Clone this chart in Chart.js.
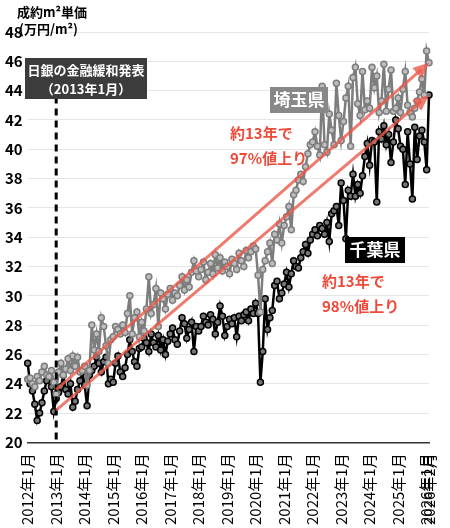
<!DOCTYPE html>
<html><head><meta charset="utf-8">
<script src="https://cdn.jsdelivr.net/npm/chart.js@4"></script>
<style>html,body{margin:0;padding:0;background:#fff}#w{width:450px;height:528px}</style>
</head><body><div id="w"><canvas id="c"></canvas></div>
<script>
const years = [2012,2013,2014,2015,2016,2017,2018,2019,2020,2021,2022,2023,2024,2025,2026];
const lastMonth = 2;
const chiba = [
25.4,24.0,23.5,22.6,21.5,22.0,22.7,23.5,24.2,24.5,23.8,22.1,
23.0,23.4,23.8,24.6,23.6,23.3,24.0,22.4,22.8,23.6,24.2,24.8,
23.9,22.5,24.6,24.9,25.2,25.8,25.4,24.8,25.5,25.8,24.0,24.3,
24.1,25.4,25.9,24.8,24.5,25.1,26.0,27.0,26.2,25.5,25.2,26.4,
26.5,27.1,26.8,26.2,27.4,26.8,26.5,27.3,26.3,27.0,26.0,26.9,
27.4,27.8,27.0,26.7,27.6,28.5,28.1,27.1,27.7,28.2,26.2,27.9,
27.6,27.9,28.6,28.2,28.0,28.7,28.4,27.4,28.2,29.3,28.6,27.3,
27.9,28.4,28.1,28.5,27.2,28.6,28.3,28.7,28.9,28.3,29.1,28.8,
29.5,28.8,24.1,26.2,29.8,27.7,28.5,29.0,30.7,31.0,29.8,30.2,
30.8,31.6,30.6,31.5,32.4,32.0,31.9,32.6,33.0,33.5,32.9,33.8,
34.2,34.5,34.1,34.8,34.6,34.2,35.0,33.7,35.6,35.8,36.1,34.8,
37.7,36.5,33.9,37.2,36.8,38.3,36.8,37.6,37.0,38.2,39.5,40.4,
38.9,40.6,40.5,36.4,41.2,40.7,41.6,40.3,41.0,39.1,40.5,42.0,
41.4,40.2,40.0,37.6,41.2,39.0,36.6,41.5,39.3,40.9,41.3,40.5,
38.6,43.7];
const saitama = [
24.3,24.4,24.0,23.8,24.5,24.2,24.8,25.2,24.6,24.5,24.9,24.1,
23.3,24.8,25.4,24.6,25.0,25.7,24.9,25.9,25.2,25.8,24.8,24.9,
25.2,23.9,24.9,28.0,26.3,27.4,26.2,28.5,27.9,26.6,25.4,27.0,
27.2,27.9,27.7,27.4,28.0,27.5,28.8,30.0,27.4,28.5,28.9,27.2,
28.2,27.6,29.1,31.3,28.8,29.4,30.5,27.9,30.2,29.8,29.1,30.1,
30.5,29.7,30.2,30.0,30.7,31.3,30.4,31.1,30.6,31.6,32.4,31.7,
31.3,31.8,32.3,31.1,31.6,32.2,31.5,32.8,31.9,32.6,31.7,32.3,
32.0,31.5,32.5,32.2,31.8,32.9,32.4,32.0,33.1,32.6,33.0,33.4,
33.2,31.4,28.9,31.8,32.4,33.0,33.6,32.2,34.2,33.8,34.9,33.6,
34.8,35.4,36.1,34.5,36.9,37.2,37.9,38.3,37.8,38.8,39.7,40.3,
40.5,41.2,40.2,39.6,44.3,40.3,39.8,42.4,41.3,40.3,44.5,42.3,
40.6,41.9,43.5,44.3,40.2,44.9,45.6,43.1,42.3,45.3,42.7,43.3,
42.8,45.6,44.2,45.0,42.5,43.3,45.8,42.6,44.1,45.4,42.6,42.8,
43.5,42.5,44.1,45.3,43.0,42.5,42.2,42.8,43.3,43.9,44.8,43.7,
46.7,45.9];
const labels = [];
years.forEach(y=>{const n = y===2026?lastMonth:12; for(let m=1;m<=n;m++) labels.push(y+'年'+m+'月');});
const eventLabel = '2013年1月';
const F = "'Noto Sans CJK JP', sans-serif";

const deco = {
  id:'deco',
  afterDatasetsDraw(ch){
    const c = ch.ctx, xs = ch.scales.x, ys = ch.scales.y;
    const ex = xs.getPixelForValue(labels.indexOf(eventLabel));
    c.save();
    c.strokeStyle='#000'; c.lineWidth=3; c.setLineDash([7,5]);
    c.beginPath(); c.moveTo(ex, ys.getPixelForValue(43.6)); c.lineTo(ex, ys.bottom); c.stroke();
    c.setLineDash([]);
    const arrow=(v0,v1)=>{
      const x0=ex,y0=ys.getPixelForValue(v0),x1=xs.getPixelForValue(labels.length-1),y1=ys.getPixelForValue(v1);
      const a=Math.atan2(y1-y0,x1-x0);
      c.strokeStyle='rgba(235,90,75,0.8)'; c.fillStyle='rgba(235,90,75,0.8)'; c.lineWidth=3;
      c.beginPath(); c.moveTo(x0,y0); c.lineTo(x1-10*Math.cos(a),y1-10*Math.sin(a)); c.stroke();
      c.beginPath(); c.moveTo(x1,y1);
      c.lineTo(x1-16*Math.cos(a)+7*Math.sin(a), y1-16*Math.sin(a)-7*Math.cos(a));
      c.lineTo(x1-16*Math.cos(a)-7*Math.sin(a), y1-16*Math.sin(a)+7*Math.cos(a));
      c.closePath(); c.fill();
    };
    arrow(23.6,45.9); arrow(22.2,43.7);
    c.fillStyle='#3c3c3c'; c.fillRect(25,58,122,41);
    c.fillStyle='#fff'; c.font='bold 13px '+F; c.textAlign='center'; c.textBaseline='middle';
    c.fillText('日銀の金融緩和発表',86,70); c.fillText('（2013年1月）',86,89);
    c.font='bold 17px '+F;
    c.fillStyle='#888'; c.fillRect(270,87,58,26); c.fillStyle='#fff'; c.fillText('埼玉県',299,100);
    c.fillStyle='#000'; c.fillRect(345,237,60,26); c.fillStyle='#fff'; c.fillText('千葉県',375,250);
    c.font='bold 15px '+F; c.fillStyle='#ee4a3a'; c.textAlign='left';
    c.fillText('約13年で',230,133); c.fillText('97%値上り',230,158);
    c.fillText('約13年で',322,281); c.fillText('98%値上り',322,306);
    c.fillStyle='#000'; c.font='bold 13px '+F; c.textAlign='left';
    c.fillText('成約m²単価',17,12); c.fillText('(万円/m²)',19,29);
    c.restore();
  }
};

new Chart(document.getElementById('c'),{
  type:'line',
  data:{labels,datasets:[
    {label:'埼玉県',data:saitama,borderColor:'#7d7d7d',backgroundColor:'#7d7d7d',pointBackgroundColor:'#bdbdbd',pointBorderColor:'#7d7d7d',pointRadius:3,pointBorderWidth:1.5,borderWidth:2.5,tension:0},
    {label:'千葉県',data:chiba,borderColor:'#000',backgroundColor:'#000',pointBackgroundColor:'#777',pointBorderColor:'#000',pointRadius:3,pointBorderWidth:1.5,borderWidth:2.5,tension:0}
  ]},
  options:{
    responsive:true,maintainAspectRatio:false,animation:false,
    layout:{padding:{top:32,right:10,left:0,bottom:0}},
    plugins:{legend:{display:false},tooltip:{enabled:false}},
    scales:{
      x:{grid:{display:false},border:{color:'#333',width:1.5},
        ticks:{autoSkip:false,maxRotation:90,minRotation:90,color:'#000',font:{family:F,size:15},padding:3,
          callback:(v,i)=>{const l=labels[i]; return (l.endsWith('年1月')||i===labels.length-1)?l:'';}}},
      y:{min:20,max:48,border:{display:false},grid:{color:'#e6e6e6',drawTicks:false},
        ticks:{stepSize:2,color:'#000',font:{family:F,size:15,weight:'bold'},padding:5}}
    }
  },
  plugins:[deco]
});
</script></body></html>
